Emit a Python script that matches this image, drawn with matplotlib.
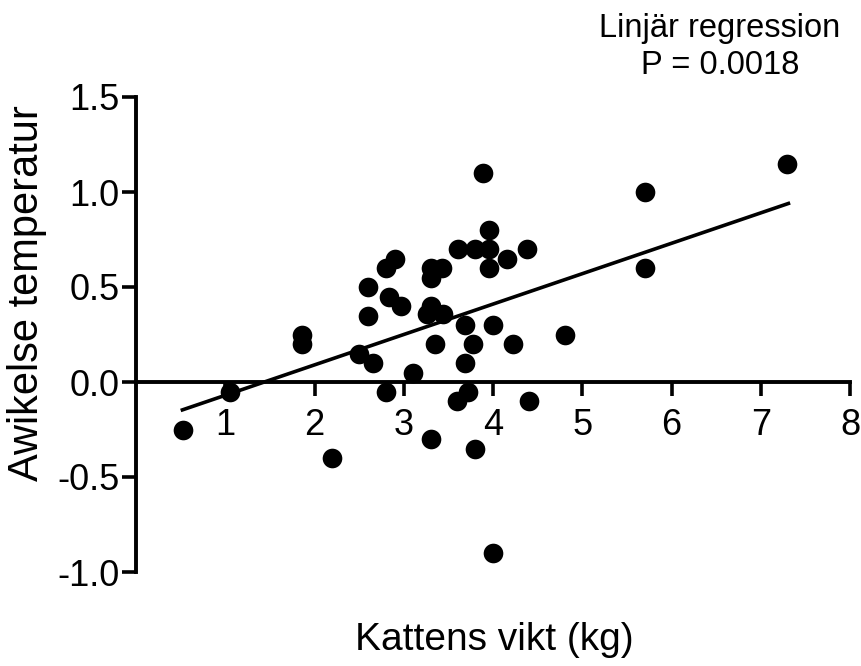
import matplotlib
matplotlib.use('Agg')
import matplotlib.pyplot as plt
import numpy as np

plt.rcParams['font.family'] = ['Liberation Sans', 'DejaVu Sans']
plt.rcParams['axes.unicode_minus'] = False

# Kattens vikt (kg) och avvikelse i temperatur, avlasta fran bilden
vikt = [0.53, 1.05, 1.86, 1.86, 2.20, 2.50, 2.60, 2.60, 2.66, 2.80,
        2.90, 2.84, 2.97, 2.80, 3.10, 3.89, 3.95, 3.61, 3.80, 3.95,
        4.16, 3.95, 4.38, 3.30, 3.43, 3.30, 3.30, 3.26, 3.44, 3.69,
        4.00, 3.35, 3.78, 4.22, 4.81, 3.69, 3.72, 3.60, 4.40, 3.30,
        3.80, 4.00, 5.70, 5.70, 7.29]
avvikelse = [-0.25, -0.05, 0.25, 0.20, -0.40, 0.15, 0.50, 0.35, 0.10, 0.60,
             0.65, 0.45, 0.40, -0.05, 0.05, 1.10, 0.80, 0.70, 0.70, 0.70,
             0.65, 0.60, 0.70, 0.60, 0.60, 0.55, 0.40, 0.36, 0.36, 0.30,
             0.30, 0.20, 0.20, 0.20, 0.25, 0.10, -0.05, -0.10, -0.10, -0.30,
             -0.35, -0.90, 1.00, 0.60, 1.15]

# regressionslinje (lutning, intercept) och dess x-intervall
lutning = 0.16
intercept = -0.23
linje_x = [0.52, 7.31]

x_ticks = [1, 2, 3, 4, 5, 6, 7, 8]
y_ticks = [-1.0, -0.5, 0.0, 0.5, 1.0, 1.5]

fig = plt.figure(figsize=(8.61, 6.66), dpi=100)
ax = fig.add_axes([136/861, 1 - 572/666, 714/861, 475/666])

ax.scatter(vikt, avvikelse, s=200, color='black', zorder=3, clip_on=False,
           linewidths=0)
lx = np.array(linje_x)
ax.plot(lx, lutning * lx + intercept, color='black', lw=2.6, zorder=2)

ax.set_xlim(0, 8)
ax.set_ylim(-1.0, 1.5)

ax.spines['top'].set_visible(False)
ax.spines['right'].set_visible(False)
ax.spines['bottom'].set_position(('data', 0))
ax.spines['bottom'].set_bounds(0, 8)
for s in ['left', 'bottom']:
    ax.spines[s].set_linewidth(2.8)

ax.set_xticks(x_ticks)
ax.set_xticklabels([str(t) for t in x_ticks])
ax.set_yticks(y_ticks)
ax.set_yticklabels([f"{t:.1f}" for t in y_ticks])
ax.tick_params(axis='both', direction='out', length=10, width=2.6,
               labelsize=26, colors='black')
ax.tick_params(axis='x', pad=9)
ax.tick_params(axis='y', pad=2)

fig.text(27/861, 1 - 293/666, "Awikelse temperatur", rotation=90,
         ha='center', va='center', fontsize=30)
fig.text(494/861, 1 - 640/666, "Kattens vikt (kg)", ha='center',
         va='center', fontsize=28)
fig.text(720/861, 1 - 47/666, "Linjär regression\nP = 0.0018", ha='center',
         va='center', fontsize=23.5, linespacing=1.25)

fig.savefig("out.png", dpi=100)
